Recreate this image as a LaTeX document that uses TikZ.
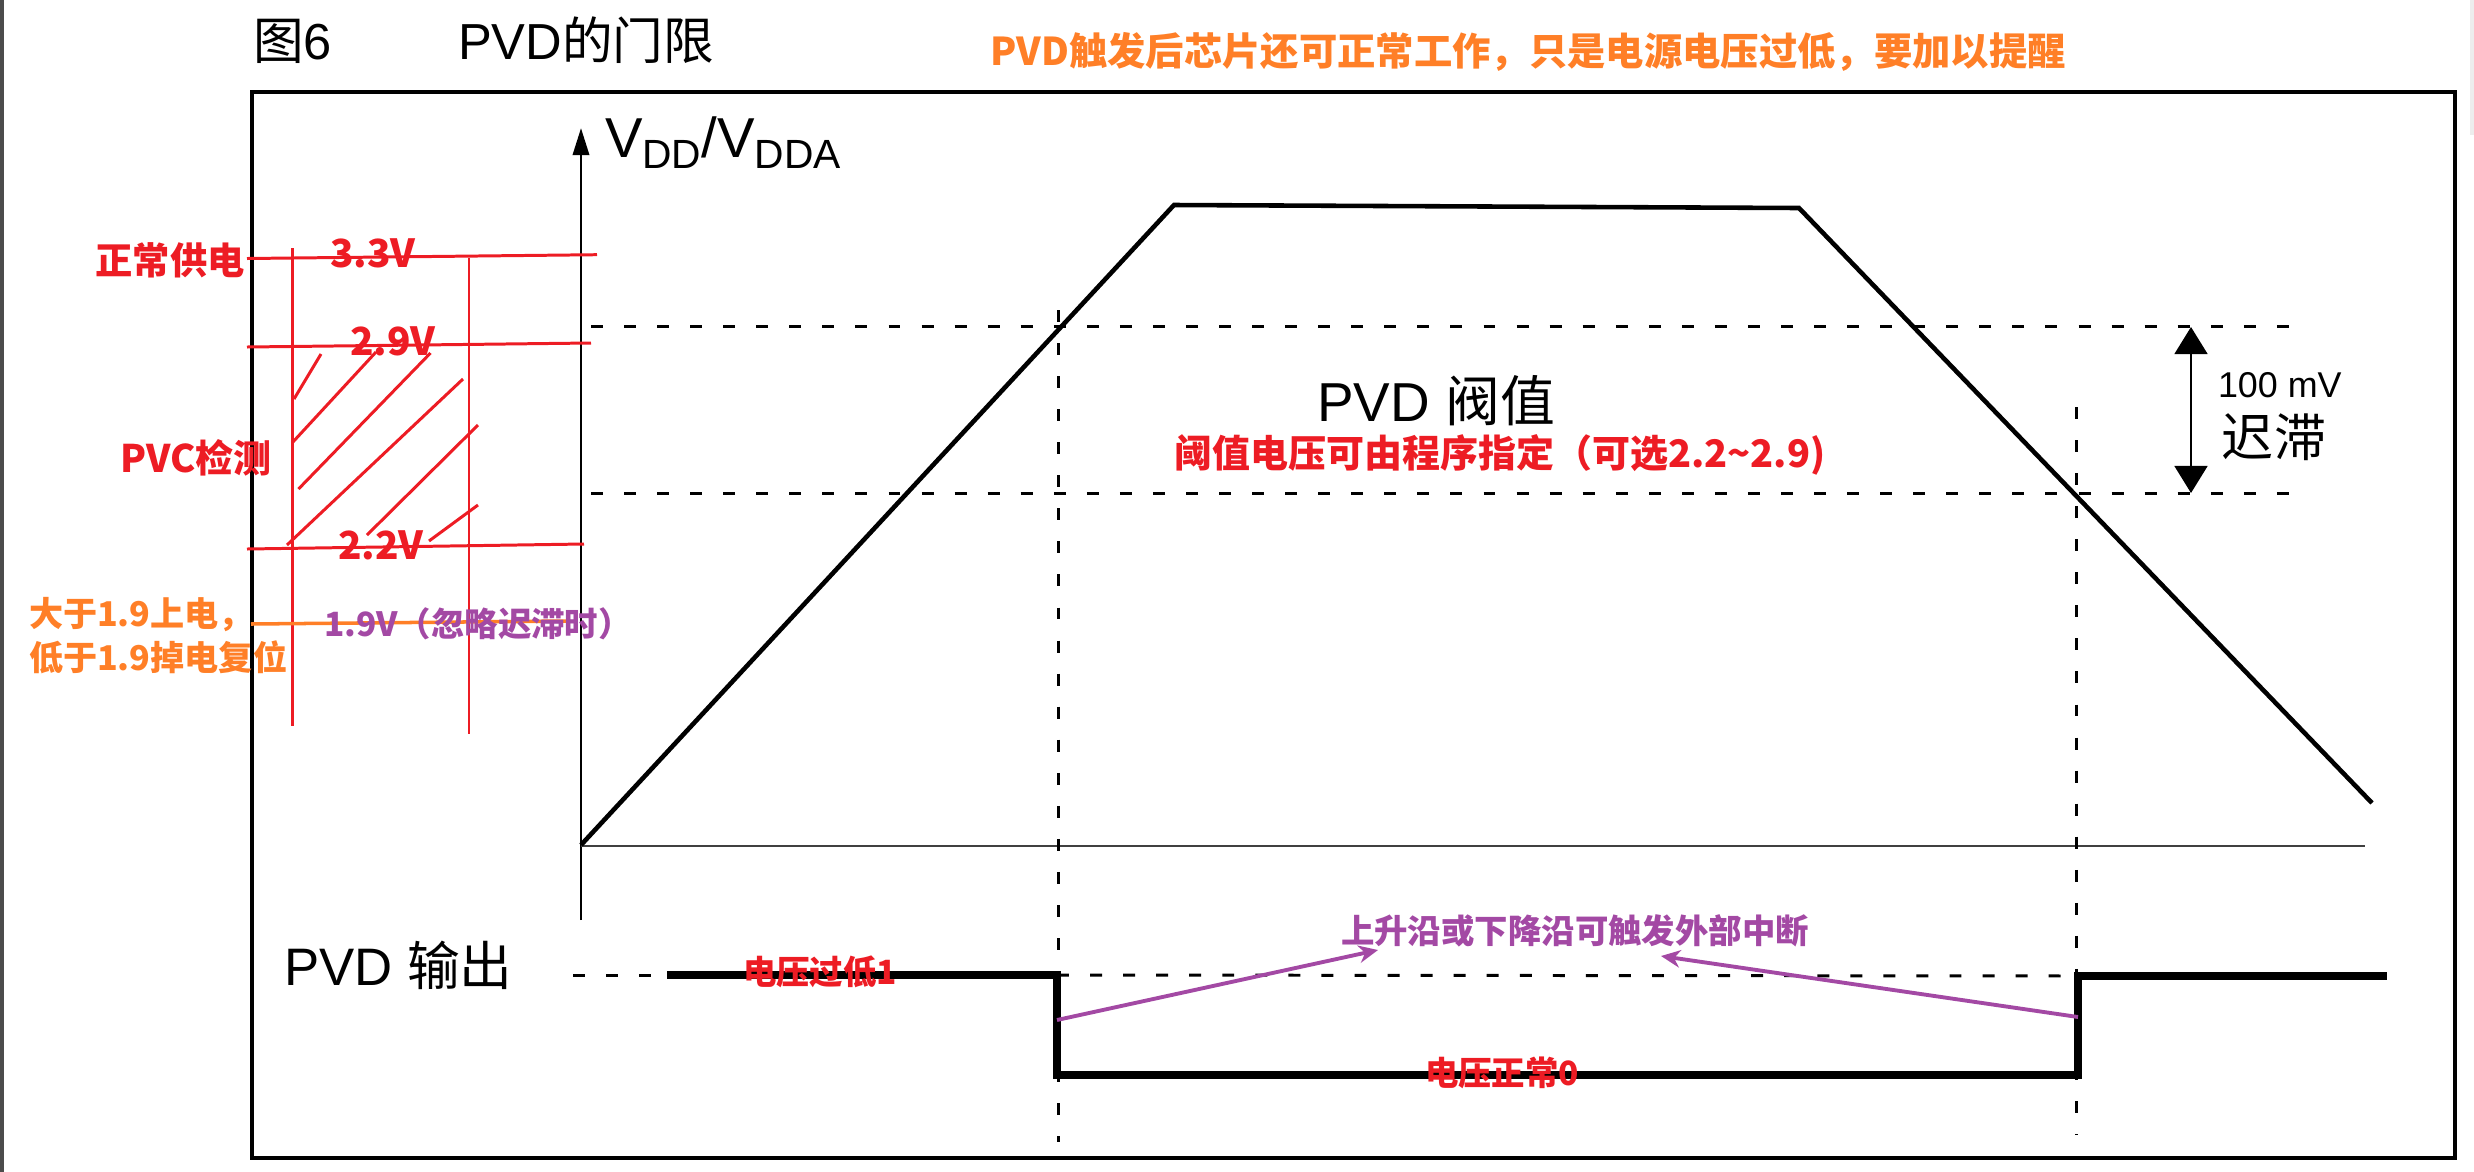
\documentclass[tikz,border=0pt]{standalone}
\usepackage{fontspec}
\setmainfont{Liberation Sans}
\newfontfamily\cjk{Noto Sans CJK SC}
\usetikzlibrary{arrows.meta}
\definecolor{pred}{HTML}{ED1C24}
\definecolor{porange}{HTML}{FF7F27}
\definecolor{ppurple}{HTML}{A349A4}
\newcommand{\fsz}[1]{\fontsize{#1}{#1}\selectfont}
\begin{document}
\begin{tikzpicture}[x=0.01cm,y=-0.01cm,
  framebox/.style={line width=0.95pt},
  wave/.style={line width=1.3pt, line join=miter},
  thr/.style={line width=0.85pt, dash pattern=on 3.4pt off 6pt},
  redln/.style={pred, line width=0.85pt},
  lbl/.style={inner sep=0pt, outer sep=0pt},
  ann/.style={inner sep=0pt, outer sep=0pt, font=\cjk\bfseries},
  outp/.style={line width=2.1pt, line join=miter},
]
\useasboundingbox (0,0) rectangle (2474,1172);
% page edges
\fill[black!70] (0,0) rectangle (4,1172);
\fill[black!7] (2470,0) rectangle (2474,135);
% frame
\draw[framebox] (252,92) rectangle (2455,1158);
% titles
\node[lbl, anchor=base west] (fig) at (253,59) {\fsz{14.4pt}{\cjk 图}6};
\node[lbl, anchor=base west] (title) at (458,59) {\fsz{14.4pt}PVD{\cjk 的门限}};
\node[ann, text=porange] (note) at (1528,52) {\fsz{10.9pt}PVD触发后芯片还可正常工作，只是电源电压过低，要加以提醒};
% axes
\coordinate (o) at (581,845);
\coordinate (ytop) at (581,128);
\coordinate (ybot) at (581,920);
\coordinate (xend) at (2365,846);
\draw[line width=0.85pt, -{Triangle[length=7.7pt,width=4.6pt]}] (ybot) -- (ytop);
\draw[black!75, line width=0.7pt] (o |- xend) -- (xend);
\node[lbl, anchor=base west] (vdd) at (605,157) {\fsz{16pt}V\raisebox{-3.2pt}{\fsz{11.6pt}DD}/V\raisebox{-3.2pt}{\fsz{11.6pt}DDA}};
% supply curve
\coordinate (a1) at (1174,205);
\coordinate (a2) at (1799,208);
\coordinate (a3) at (2372,803);
\draw[wave] (o) -- (a1) -- (a2) -- (a3);
% threshold lines
\coordinate (hl) at (591,326); \coordinate (hr) at (2304,326);
\coordinate (ll) at (591,493); \coordinate (lr) at (2304,493);
\draw[thr] (hl) -- (hr);
\draw[thr] (ll) -- (lr);
\coordinate (v1t) at (1058,310); \coordinate (v1b) at (1058,1142);
\coordinate (v2t) at (2076,407); \coordinate (v2b) at (2076,1135);
\draw[thr] (v1t) -- (v1b);
\draw[thr] (v2t) -- (v2b);
% hysteresis
\coordinate (h1) at (2191,327); \coordinate (h2) at (2191,493);
\draw[line width=0.45pt, {Triangle[length=7.7pt,width=9.4pt]}-{Triangle[length=7.7pt,width=9.4pt]}] (h1) -- (h2);
\node[lbl, anchor=west] (mv) at (2218,385) {\fsz{10.2pt}100 mV};
\node[lbl, anchor=center] (hys) at (2274,437) {\fsz{14.8pt}\cjk 迟滞};
\node[lbl] (thrl) at (1436,401) {\fsz{15.6pt}PVD {\cjk 阀值}};
\node[ann, text=pred] (thrn) at (1500,455) {\fsz{10.8pt}阈值电压可由程序指定（可选2.2\textasciitilde2.9)};
% PVD output
\node[lbl, anchor=west] (outl) at (284,965) {\fsz{15pt}PVD {\cjk 输出}};
\coordinate (s0) at (573,975);
\coordinate (s1) at (667,975);
\coordinate (s2) at (1057,975);
\coordinate (s3) at (1057,1075);
\coordinate (s4) at (2078,1075);
\coordinate (s5) at (2078,976);
\coordinate (s6) at (2387,976);
\draw[thr] (s0) -- (s1);
\draw[thr] (s2) -- (s5);
\draw[outp] (s1) -- (s2) -- (s3) -- (s4) -- (s5) -- (s6);
% interrupt arrows
\coordinate (p1) at (1057,1020); \coordinate (p1t) at (1378,950);
\coordinate (p2) at (2078,1017); \coordinate (p2t) at (1661,956);
\draw[ppurple, line width=1.1pt, -{Stealth[length=5.5pt,width=5pt]}] (p1) -- (p1t);
\draw[ppurple, line width=1.1pt, -{Stealth[length=5.5pt,width=5pt]}] (p2) -- (p2t);
\node[ann, text=ppurple] (irq) at (1575,931) {\fsz{9.5pt}上升沿或下降沿可触发外部中断};
\node[ann, text=pred] (low1) at (820,972) {\fsz{9.5pt}电压过低1};
\node[ann, text=pred] (ok0) at (1502,1073) {\fsz{9.5pt}电压正常0};
% red annotations
\draw[redln] (247,258.5) -- (597,254.7);
\draw[redln] (247,347) -- (591,343);
\draw[redln] (247,549) -- (584,544);
\draw[redln] (292.5,248) -- (292.5,726);
\draw[redln] (469,258) -- (469,734);
\draw[redln] (294,399) -- (321,354);
\draw[redln] (292,443) -- (376,352);
\draw[redln] (298.5,489) -- (430.5,353);
\draw[redln] (287,545) -- (463,379);
\draw[redln] (367,535) -- (478,425);
\draw[redln] (429,541) -- (478,505);
\node[ann, text=pred] (v33n) at (170,260) {\fsz{10.6pt}正常供电};
\node[ann, text=pred] (v33) at (373,253) {\fsz{11pt}3.3V};
\node[ann, text=pred] (v29) at (393,341) {\fsz{11pt}2.9V};
\node[ann, text=pred] (v22) at (381,545) {\fsz{11pt}2.2V};
\node[ann, text=pred] (pvc) at (196,458) {\fsz{10.8pt}PVC检测};
\draw[porange, line width=1pt] (251,624) -- (568,621);
\node[ann, text=porange, anchor=west] (por1) at (29,615) {\fsz{9.7pt}大于1.9上电，};
\node[ann, text=porange, anchor=west] (por2) at (29,657) {\fsz{9.7pt}低于1.9掉电复位};
\node[ann, text=ppurple, anchor=west] (v19) at (324,624) {\fsz{9.5pt}1.9V（忽略迟滞时）};
\end{tikzpicture}
\end{document}
